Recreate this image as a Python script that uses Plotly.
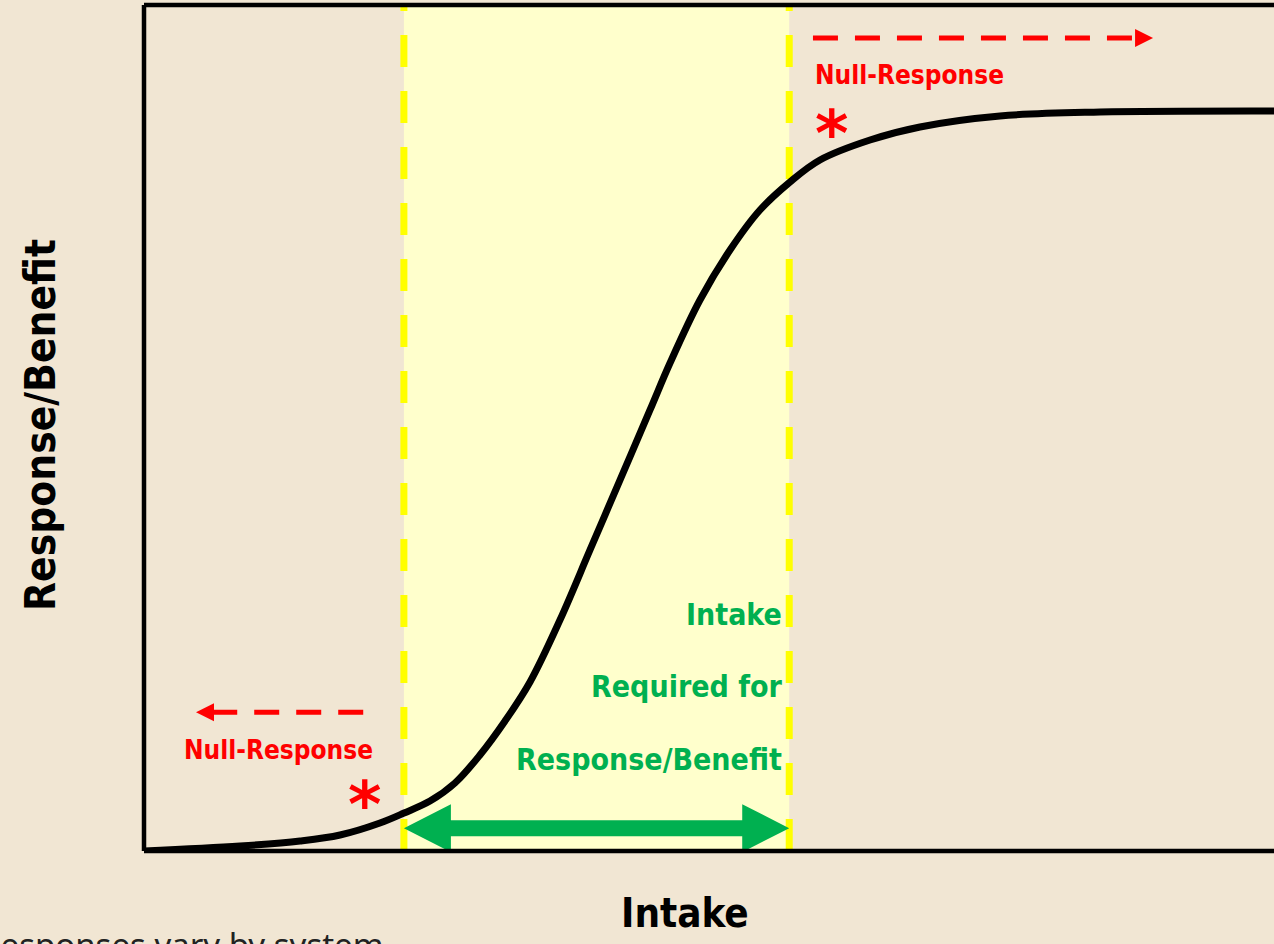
import plotly.graph_objects as go

# ---- data (x: intake 0-100, y: response 0-100) ----
intake = [0, 8.50, 13.81, 17.35, 20.88, 23.01, 25.31, 27.52, 29.73, 31.95, 34.16,
          36.81, 39.47, 42.12, 44.78, 46.55, 49.20, 51.86, 54.51, 57.17, 59.82,
          64.25, 68.67, 75.75, 84.60, 100]
response = [0, 0.59, 1.18, 1.89, 3.31, 4.49, 5.90, 8.04, 11.35, 15.37, 19.98,
            27.30, 35.58, 43.85, 52.13, 57.68, 65.13, 71.04, 75.77, 79.08, 81.68,
            84.04, 85.58, 86.88, 87.35, 87.47]

band_start, band_end = 23.0, 57.1          # intake required for response/benefit
null_low_arrow = [19.4, 4.6, 16.4]          # x from, x to, y
null_high_arrow = [59.2, 89.3, 96.1]        # x from, x to, y
null_low_star = [19.5, 5.4]
null_high_star = [60.8, 84.8]

x_title = "Intake"
y_title = "Response/Benefit"
band_label = ["Intake", "Required for", "Response/Benefit"]
null_label = "Null-Response"
footnote = "Responses vary by system"

# ---- layout constants ----
W, H = 1274, 944
ML, MR, MT, MB = 144, 0, 5, 93
PW, PH = W - ML - MR, H - MT - MB
XR, YR = [0, 100], [0, 100]
sx = PW / (XR[1] - XR[0])   # px per x unit
sy = PH / (YR[1] - YR[0])   # px per y unit

BG = "#F1E6D3"
BAND = "#FFFFCC"
YEL = "#FFFF00"
GREEN = "#00B050"
RED = "#FF0000"
COND = "DejaVu Sans Condensed, Liberation Sans Narrow, sans-serif"

fig = go.Figure()
fig.add_trace(go.Scatter(x=intake, y=response, mode="lines",
                         line=dict(color="black", width=7, shape="spline", smoothing=1.0),
                         hoverinfo="skip", showlegend=False))

shapes = []
# yellow band
shapes.append(dict(type="rect", xref="x", yref="paper", x0=band_start, x1=band_end,
                   y0=0, y1=1, fillcolor=BAND, line=dict(width=0), layer="below"))
for bx in (band_start, band_end):
    shapes.append(dict(type="line", xref="x", yref="paper", x0=bx, x1=bx, y0=0, y1=1,
                       line=dict(color=YEL, width=7, dash="32px,24px"), layer="below"))

# green double arrow
cy = 2.7
hl = 47 / sx      # head length
hh = 24 / sy      # head half height
sh = 8 / sy       # shaft half thickness
a, b = band_start, band_end
path = (f"M{a},{cy} L{a+hl},{cy+hh} L{a+hl},{cy+sh} L{b-hl},{cy+sh} L{b-hl},{cy+hh} "
        f"L{b},{cy} L{b-hl},{cy-hh} L{b-hl},{cy-sh} L{a+hl},{cy-sh} L{a+hl},{cy-hh} Z")
shapes.append(dict(type="path", xref="x", yref="y", path=path, fillcolor=GREEN,
                   line=dict(width=0)))

# red dashed arrows
def red_arrow(x_from, x_to, y):
    d = 1 if x_to > x_from else -1
    hlen = 18 / sx
    hhalf = 9 / sy
    base = x_to - d * hlen
    return [dict(type="line", xref="x", yref="y", x0=x_from, x1=base, y0=y, y1=y,
                 line=dict(color=RED, width=5, dash="25px,17px")),
            dict(type="path", xref="x", yref="y",
                 path=f"M{x_to},{y} L{base},{y+hhalf} L{base},{y-hhalf} Z",
                 fillcolor=RED, line=dict(width=0))]

shapes += red_arrow(*null_low_arrow)
shapes += red_arrow(*null_high_arrow)

# frame (left, top, bottom)
frame = dict(color="black", width=4.5)
shapes.append(dict(type="line", xref="paper", yref="paper", x0=0, x1=0, y0=0, y1=1, line=frame))
shapes.append(dict(type="line", xref="paper", yref="paper", x0=0, x1=1.02, y0=1, y1=1, line=frame))
shapes.append(dict(type="line", xref="paper", yref="paper", x0=0, x1=1.02, y0=0, y1=0, line=frame))

ann = []
# green label lines, right aligned
label_y = [28.0, 19.4, 10.8]
for t, yy in zip(band_label, label_y):
    ann.append(dict(x=band_end - 5 / sx, y=yy, xref="x", yref="y", text=f"<b>{t}</b>",
                    showarrow=False, xanchor="right", yanchor="middle",
                    font=dict(family=COND, size=30, color=GREEN)))
# null response labels
ann.append(dict(x=null_high_arrow[0], y=91.7, xref="x", yref="y", text=f"<b>{null_label}</b>",
                showarrow=False, xanchor="left", yanchor="middle",
                font=dict(family=COND, size=26, color=RED)))
ann.append(dict(x=3.4, y=11.9, xref="x", yref="y", text=f"<b>{null_label}</b>",
                showarrow=False, xanchor="left", yanchor="middle",
                font=dict(family=COND, size=26, color=RED)))
# asterisks
for sxv, syv in (null_low_star, null_high_star):
    ann.append(dict(x=sxv, y=syv, xref="x", yref="y", text="<b>*</b>", showarrow=False,
                    xanchor="center", yanchor="middle",
                    font=dict(family="DejaVu Sans", size=64, color=RED)))
# axis titles
ann.append(dict(x=(685 - ML) / PW, y=(851 - 913) / PH, xref="paper", yref="paper",
                text=f"<b>{x_title}</b>", showarrow=False, xanchor="center", yanchor="middle",
                font=dict(family=COND, size=40, color="black")))
ann.append(dict(x=(40 - ML) / PW, y=(851 - 425) / PH, xref="paper", yref="paper",
                text=f"<b>{y_title}</b>", showarrow=False, xanchor="center", yanchor="middle",
                textangle=-90, font=dict(family=COND, size=42, color="black")))
# footnote (cut off at the page edge in the reference)
ann.append(dict(x=(-22 - ML) / PW, y=(851 - 920) / PH, xref="paper", yref="paper",
                text=footnote, showarrow=False, xanchor="left", yanchor="top",
                font=dict(family="Noto Sans", size=33, color="#222222")))

fig.update_layout(
    width=W, height=H,
    margin=dict(l=ML, r=MR, t=MT, b=MB),
    paper_bgcolor=BG, plot_bgcolor=BG,
    xaxis=dict(range=XR, showgrid=False, zeroline=False, showticklabels=False,
               ticks="", showline=False, fixedrange=True),
    yaxis=dict(range=YR, showgrid=False, zeroline=False, showticklabels=False,
               ticks="", showline=False, fixedrange=True),
    shapes=shapes, annotations=ann, showlegend=False,
)

fig.write_html("out.html", config={"displayModeBar": False},
               post_script="document.body.style.margin='0';document.body.style.overflow='hidden';")
